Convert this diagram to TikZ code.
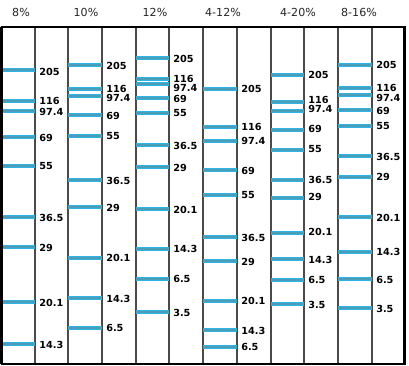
\documentclass[tikz,border=0pt]{standalone}
\usepackage{fontspec}
\setmainfont{DejaVu Sans}
\definecolor{bandcyan}{HTML}{2BB4E4}
\definecolor{bandcore}{HTML}{4E9DB8}
\definecolor{divgray}{HTML}{4A4A4A}

\begin{document}
\begin{tikzpicture}[x=0.75pt, y=-0.75pt,
    band/.style={line width=3pt, bandcyan},
    bandmid/.style={line width=1pt, bandcore},
    size/.style={anchor=west, inner sep=0pt, font=\bfseries\fontsize{7.3}{8}\selectfont},
    gelname/.style={inner sep=0pt, text=black!85, font=\fontsize{8.3}{9}\selectfont}]
    \useasboundingbox (0,0) rectangle (409,366);
    \foreach \lx/\dx/\hx/\title/\bands [count=\c] in {
        2/35/21/8\%/{70/72/205, 101/101/116, 111/112/97.4, 137/138/69, 166/166/55, 217/218/36.5, 247/248/29, 302/303/20.1, 344/345/14.3},
        68/102/86/10\%/{65/66/205, 89/89/116, 96/98/97.4, 115/116/69, 136/136/55, 180/181/36.5, 207/208/29, 258/258/20.1, 298/299/14.3, 328/328/6.5},
        136/169/155/12\%/{58/59/205, 79/79/116, 84/88/97.4, 98/99/69, 113/113/55, 145/146/36.5, 167/168/29, 209/210/20.1, 249/249/14.3, 279/279/6.5, 312/313/3.5},
        203/237/223/4-12\%/{89/89/205, 127/127/116, 141/141/97.4, 170/171/69, 195/195/55, 237/238/36.5, 261/262/29, 301/301/20.1, 330/331/14.3, 347/347/6.5},
        271/304/298/4-20\%/{75/75/205, 102/100/116, 111/109/97.4, 130/129/69, 150/149/55, 180/180/36.5, 198/197/29, 233/232/20.1, 259/260/14.3, 280/280/6.5, 304/305/3.5},
        338/372/359/8-16\%/{65/65/205, 88/88/116, 95/98/97.4, 110/111/69, 126/126/55, 156/157/36.5, 177/177/29, 217/218/20.1, 252/252/14.3, 279/280/6.5, 308/309/3.5}} {
        \node[gelname] (gel\c) at (\hx,12) {\title};
        \draw[divgray, line width=0.9pt] (\lx,27) -- (\lx,364);
        \draw[divgray, line width=0.9pt] (\dx,27) -- (\dx,364);
        \foreach \by/\ly/\kda [count=\k] in \bands {
            \draw[band] (\lx,\by) -- (\dx,\by);
            \draw[bandmid] (\lx,\by) -- (\dx,\by);
            \node[size] (kda\c-\k) at (\dx+4,\ly) {\kda};
        }
    }
    \draw[line width=1.5pt] (0.5,27) -- (404,27);
    \draw[line width=1.5pt] (1.5,27) -- (1.5,364);
    \draw[line width=2.2pt] (404.5,26) -- (404.5,364) -- (0.5,364);
\end{tikzpicture}
\end{document}
